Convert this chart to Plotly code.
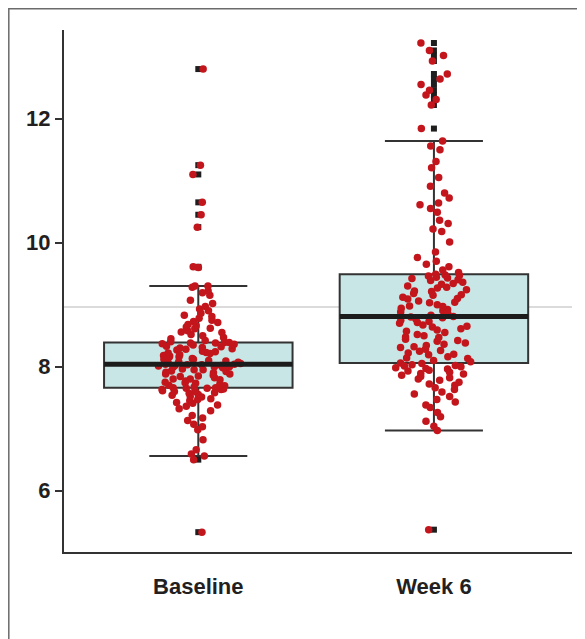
import plotly.graph_objects as go

# ---------------- data ----------------
categories = ["Baseline", "Week 6"]

baseline = [
    5.33, 6.50, 6.56, 6.59, 6.66, 6.82, 6.98, 7.03, 7.07, 7.13, 7.17, 7.21,
    7.29, 7.32, 7.36, 7.38, 7.41, 7.42, 7.45, 7.47, 7.48, 7.51, 7.52, 7.54,
    7.55, 7.57, 7.58, 7.60, 7.60, 7.61, 7.63, 7.63, 7.64, 7.65, 7.65, 7.66,
    7.66, 7.67, 7.69, 7.70, 7.71, 7.73, 7.74, 7.75, 7.77, 7.79, 7.80, 7.80,
    7.82, 7.84, 7.85, 7.86, 7.88, 7.88, 7.90, 7.91, 7.92, 7.93, 7.95, 7.95,
    7.96, 7.98, 7.99, 8.00, 8.00, 8.01, 8.02, 8.02, 8.03, 8.03, 8.04, 8.04,
    8.05, 8.06, 8.07, 8.08, 8.09, 8.10, 8.12, 8.12, 8.13, 8.15, 8.16, 8.17,
    8.18, 8.19, 8.21, 8.22, 8.23, 8.24, 8.25, 8.27, 8.28, 8.29, 8.30, 8.31,
    8.32, 8.33, 8.35, 8.36, 8.37, 8.38, 8.38, 8.39, 8.39, 8.40, 8.42, 8.45,
    8.47, 8.50, 8.52, 8.55, 8.56, 8.58, 8.61, 8.62, 8.64, 8.66, 8.68, 8.71,
    8.73, 8.75, 8.78, 8.81, 8.83, 8.86, 8.90, 8.93, 8.97, 9.02, 9.07, 9.15,
    9.19, 9.22, 9.28, 9.30, 9.30, 9.60, 9.61, 10.25, 10.45, 10.65, 11.10,
    11.25, 12.80,
]

week6 = [
    5.37, 6.97, 7.04, 7.12, 7.19, 7.26, 7.34, 7.38, 7.43, 7.47, 7.52, 7.56,
    7.59, 7.63, 7.66, 7.70, 7.72, 7.75, 7.78, 7.80, 7.82, 7.84, 7.86, 7.88,
    7.89, 7.91, 7.93, 7.94, 7.96, 7.97, 7.98, 8.00, 8.01, 8.02, 8.03, 8.05,
    8.06, 8.08, 8.10, 8.13, 8.14, 8.16, 8.19, 8.20, 8.22, 8.25, 8.26, 8.28,
    8.31, 8.32, 8.34, 8.36, 8.38, 8.41, 8.42, 8.44, 8.47, 8.48, 8.50, 8.52,
    8.55, 8.57, 8.59, 8.61, 8.64, 8.65, 8.67, 8.70, 8.71, 8.73, 8.75, 8.77,
    8.79, 8.80, 8.81, 8.83, 8.85, 8.88, 8.90, 8.92, 8.94, 8.97, 8.98, 9.00,
    9.03, 9.04, 9.06, 9.09, 9.10, 9.12, 9.15, 9.16, 9.18, 9.21, 9.22, 9.24,
    9.27, 9.28, 9.30, 9.33, 9.34, 9.36, 9.39, 9.40, 9.42, 9.43, 9.44, 9.46,
    9.47, 9.48, 9.49, 9.52, 9.56, 9.61, 9.65, 9.70, 9.76, 9.85, 10.01, 10.18,
    10.22, 10.31, 10.36, 10.49, 10.55, 10.61, 10.64, 10.72, 10.80, 10.91,
    11.05, 11.21, 11.31, 11.50, 11.56, 11.64, 11.84, 12.22, 12.31, 12.38,
    12.46, 12.55, 12.64, 12.72, 12.93, 13.02, 13.10, 13.22,
]

q1 = [7.66, 8.06]
medians = [8.04, 8.81]
q3 = [8.39, 9.49]
lower_fence = [6.56, 6.97]
upper_fence = [9.30, 11.64]

reference_value = 8.96
y_ticks = [6, 8, 10, 12]

# ---------------- styles ----------------
RED = "#c3161c"
BOX_FILL = "rgb(200,230,229)"
FONT = "Liberation Sans, Arial, sans-serif"
BOX_W = 0.8

# figure size / margins (page body adds an 8px offset)
W, H = 577, 631
ML, MR, MT, MB = 56, 13, 22, 87
PW, PH = W - ML - MR, H - MT - MB

groups = [baseline, week6]
out_x, out_y = [], []
for i, vals in enumerate(groups):
    for v in vals:
        if v < lower_fence[i] or v > upper_fence[i]:
            out_x.append(categories[i])
            out_y.append(v)

all_x, all_y = [], []
for i, vals in enumerate(groups):
    all_x += [categories[i]] * len(vals)
    all_y += vals

fig = go.Figure()

# box with precomputed statistics
fig.add_trace(go.Box(
    x=categories, q1=q1, median=medians, q3=q3,
    lowerfence=lower_fence, upperfence=upper_fence,
    boxpoints=False, width=BOX_W, whiskerwidth=0.52,
    fillcolor=BOX_FILL, line=dict(color="#333333", width=2),
    showlegend=False, hoverinfo="skip",
))

# black outliers (drawn at the box centre)
fig.add_trace(go.Box(
    x=out_x, y=out_y, boxpoints="all", jitter=0, pointpos=0, width=BOX_W,
    fillcolor="rgba(0,0,0,0)", line=dict(color="rgba(0,0,0,0)", width=0),
    marker=dict(color="#1e1e1e", size=6, symbol="square"),
    showlegend=False,
))

# red jittered data points
fig.add_trace(go.Box(
    x=all_x, y=all_y, boxpoints="all", jitter=0.45, pointpos=0, width=BOX_W,
    fillcolor="rgba(0,0,0,0)", line=dict(color="rgba(0,0,0,0)", width=0),
    marker=dict(color=RED, size=7.5, symbol="circle"),
    showlegend=False,
))

shapes = []
# thick median bars
for i, m in enumerate(medians):
    shapes.append(dict(type="line", xref="x", yref="y",
                       x0=i - BOX_W / 2, x1=i + BOX_W / 2, y0=m, y1=m,
                       line=dict(color="#1c1c1c", width=5), layer="above"))
# reference line
shapes.append(dict(type="line", xref="paper", yref="y", x0=0, x1=1,
                   y0=reference_value, y1=reference_value,
                   line=dict(color="#cfcfcf", width=1.5), layer="below"))
# outer frame (left and top edges visible, others beyond the page)
shapes.append(dict(type="rect", xref="paper", yref="paper",
                   x0=(0.8 - ML) / PW, x1=(W + 20 - ML) / PW,
                   y0=1 - (H + 20 - MT) / PH, y1=1 + (MT - 0.8) / PH,
                   line=dict(color="#6b6b6b", width=1.5), layer="below"))

fig.update_layout(
    width=W, height=H,
    margin=dict(l=ML, r=MR, t=MT, b=MB),
    paper_bgcolor="white", plot_bgcolor="white",
    boxmode="overlay",
    shapes=shapes,
    showlegend=False,
    xaxis=dict(
        type="category", categoryorder="array", categoryarray=categories,
        range=[-0.57, 1.586], showgrid=False, zeroline=False,
        showline=True, linecolor="#333333", linewidth=2,
        ticks="", ticklabelstandoff=14,
        tickfont=dict(family=FONT, size=22, color="#231f20", weight="bold"),
        fixedrange=True,
    ),
    yaxis=dict(
        range=[5.01, 13.43], tickvals=y_ticks, ticktext=[str(t) for t in y_ticks],
        showgrid=False, zeroline=False,
        showline=True, linecolor="#333333", linewidth=2,
        ticks="outside", ticklen=7, tickwidth=2, tickcolor="#333333",
        tickfont=dict(family=FONT, size=22, color="#231f20", weight="bold"),
        fixedrange=True,
    ),
)

fig.write_html("out.html")
